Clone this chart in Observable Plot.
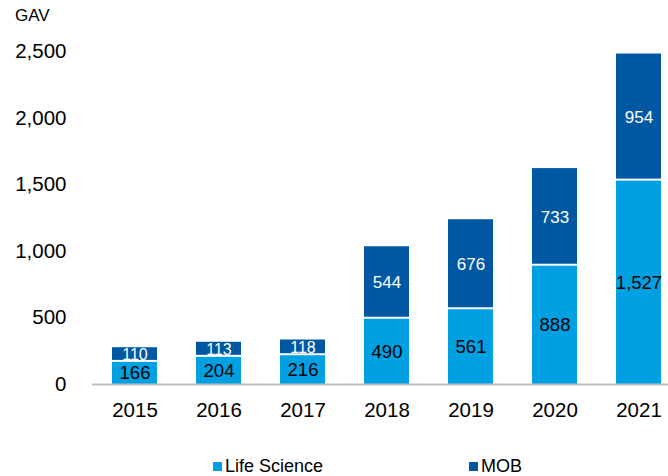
<!DOCTYPE html>
<html>
<head>
<meta charset="utf-8">
<script src="https://cdn.jsdelivr.net/npm/d3@7"></script>
<script src="https://cdn.jsdelivr.net/npm/@observablehq/plot@0.6"></script>
<style>
  html, body { margin: 0; padding: 0; background: #fff; }
  #wrap { position: relative; width: 668px; height: 476px; overflow: hidden; font-family: "Liberation Sans", Arial, sans-serif; }
  #gav { position: absolute; left: 15px; top: 6px; font-size: 17px; color: #000; }
  .leg { position: absolute; top: 455px; font-size: 18px; color: #000; line-height: 22px; white-space: nowrap; }
  .sw { display: inline-block; width: 9px; height: 9px; margin-right: 3px; vertical-align: 1px; }
</style>
</head>
<body>
<div id="wrap">
  <div id="gav">GAV</div>
  <div id="chart"></div>
  <div class="leg" style="left:213px"><span class="sw" style="background:#00A0E2"></span>Life Science</div>
  <div class="leg" style="left:469px"><span class="sw" style="background:#0058A3"></span>MOB</div>
</div>
<script>
const years = ["2015", "2016", "2017", "2018", "2019", "2020", "2021"];
const lifeScience = [166, 204, 216, 490, 561, 888, 1527];
const mob = [110, 113, 118, 544, 676, 733, 954];
const yTicks = [0, 500, 1000, 1500, 2000, 2500];

const colorLS = "#00A0E2";
const colorMOB = "#0058A3";

const rows = years.map((y, i) => ({
  year: y,
  ls: lifeScience[i],
  mob: mob[i],
  top: lifeScience[i] + mob[i]
}));

const fmt = d3.format(",");

const chart = Plot.plot({
  width: 668,
  height: 476,
  marginLeft: 92,
  marginRight: -12,
  marginTop: 51,
  marginBottom: 92,
  style: { fontFamily: "Liberation Sans, Arial, sans-serif", fontSize: "20px", color: "#000", background: "transparent" },
  x: { domain: years, paddingInner: 0.47, paddingOuter: 0.235, label: null },
  y: { domain: [0, 2500], ticks: yTicks, label: null },
  marks: [
    Plot.axisY({ ticks: yTicks, tickSize: 0, tickPadding: 26, tickFormat: fmt, fontSize: 20.5, label: null }),
    Plot.axisX({ tickSize: 0, tickPadding: 18, fontSize: 20.5, label: null }),
    Plot.barY(rows, { x: "year", y1: 0, y2: "ls", fill: colorLS }),
    Plot.barY(rows, { x: "year", y1: "ls", y2: "top", fill: colorMOB, insetBottom: 2 }),
    Plot.ruleY([0], { stroke: "#BFBFBF", strokeWidth: 2 }),
    Plot.text(rows, { x: "year", y: d => d.ls / 2, text: d => fmt(d.ls), fill: "#000", fontSize: 18.5 }),
    Plot.text(rows, { x: "year", y: d => d.ls + d.mob / 2, text: d => fmt(d.mob), fill: "#fff", fontSize: d => d.mob < 200 ? 16 : 17 })
  ]
});
document.getElementById("chart").appendChild(chart);
</script>
</body>
</html>
